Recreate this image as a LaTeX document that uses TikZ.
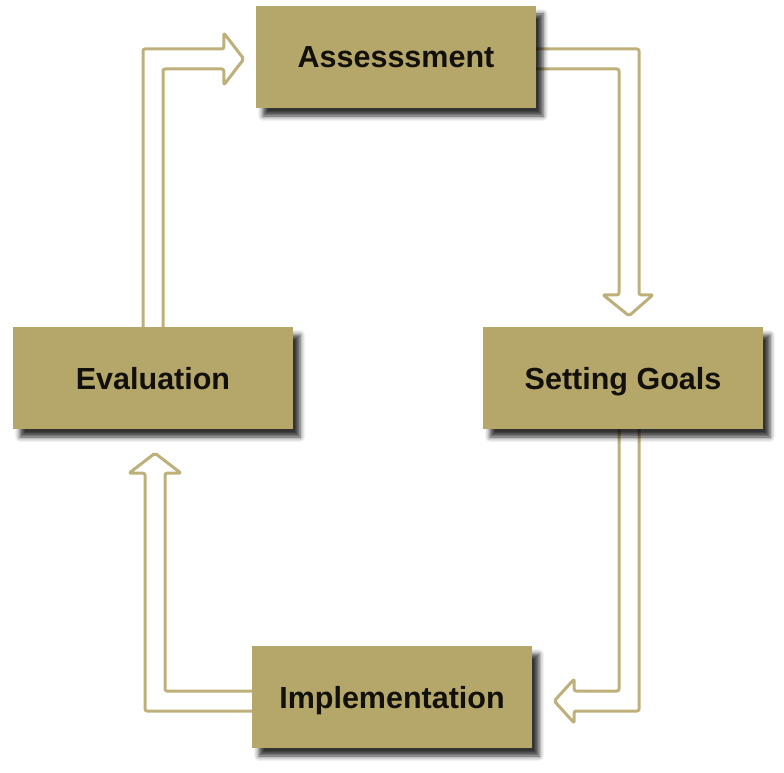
\documentclass[tikz,border=0pt]{standalone}
\usepackage{fontspec}
\setmainfont{Liberation Sans}
\usetikzlibrary{calc,backgrounds,shadows.blur}

\definecolor{boxtan}{RGB}{181,166,106}
\definecolor{linetan}{RGB}{190,176,122}
\definecolor{labelink}{RGB}{18,16,10}

\tikzset{
  stage/.style={
    rectangle, fill=boxtan, draw=none,
    minimum width=280pt, minimum height=102pt,
    text height=22pt, text depth=0pt,
    text=labelink, font=\fontsize{30.5}{36}\selectfont\bfseries,
    blur shadow={shadow xshift=7pt, shadow yshift=-8pt,
                 shadow opacity=80, shadow blur radius=5pt}
  },
  hollow/.style={draw=linetan, line width=3pt, line join=round,
                 rounded corners=2pt}
}

\begin{document}
\begin{tikzpicture}[x=1pt, y=-1pt]
  \useasboundingbox (0,0) rectangle (784,773);

  % the four stages of the cycle
  \node[stage] (as) at (396,57)  {Assesssment};
  \node[stage] (sg) at (623,378) {Setting Goals};
  \node[stage] (ev) at (153,378) {Evaluation};
  \node[stage] (im) at (392,697) {Implementation};

  % hollow connectors, kept behind the boxes
  \begin{scope}[on background layer]
    % Evaluation -> Assessment
    \draw[hollow]
      ($(ev.north)+(-10,0)$) |- ($(as.west)+(-32,-8)$)
      -- ++(0,-16) -- ($(as.west)+(-12,2)$)
      -- ($(as.west)+(-32,28)$) -- ++(0,-16)
      -| ($(ev.north)+(10,0)$);

    % Assessment -> Setting Goals
    \draw[hollow]
      ($(as.east)+(0,-8)$) -| ($(sg.north)+(16,-32)$)
      -- ++(14,0) -- ($(sg.north)+(6,-11)$)
      -- ($(sg.north)+(-20,-32)$) -- ++(16,0)
      |- ($(as.east)+(0,12)$);

    % Setting Goals -> Implementation
    \draw[hollow]
      ($(sg.south)+(16,0)$) |- ($(im.east)+(42,14)$)
      -- ++(0,12) -- ($(im.east)+(22,4)$)
      -- ($(im.east)+(42,-18)$) -- ++(0,12)
      -| ($(sg.south)+(-4,0)$);

    % Implementation -> Evaluation
    \draw[hollow]
      ($(im.west)+(0,14)$) -| ($(ev.south)+(-8,44)$)
      -- ++(-16,0) -- ($(ev.south)+(2,24)$)
      -- ($(ev.south)+(28,44)$) -- ++(-16,0)
      |- ($(im.west)+(0,-6)$);
  \end{scope}
\end{tikzpicture}
\end{document}
